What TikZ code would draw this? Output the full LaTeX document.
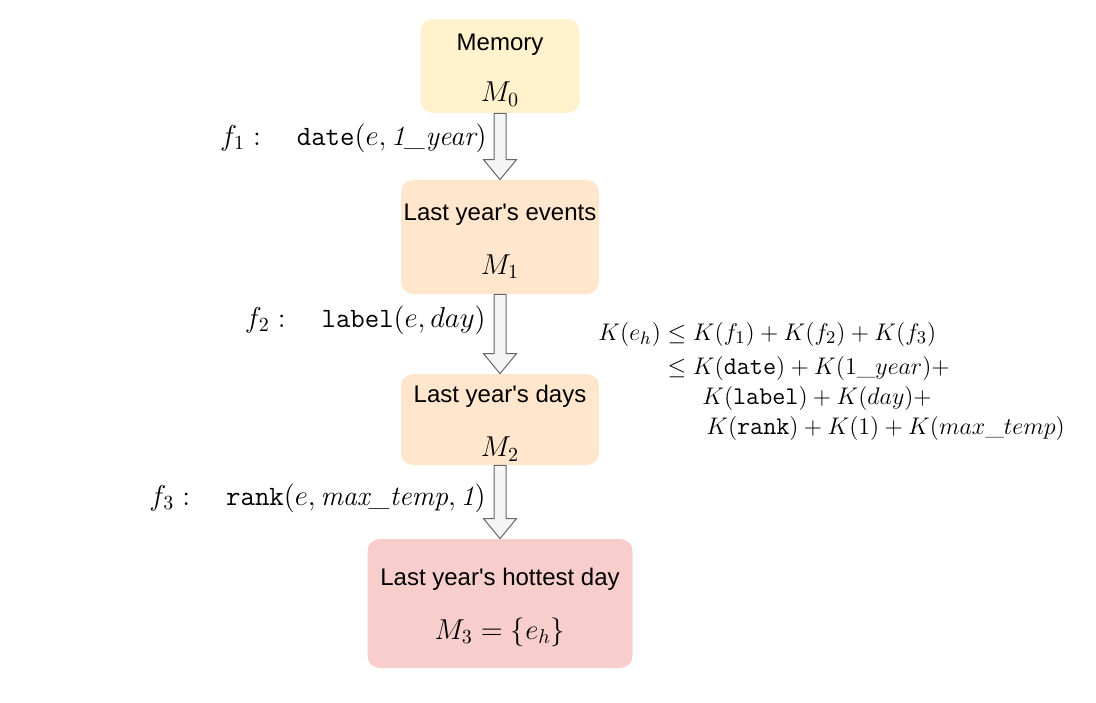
\documentclass[tikz,border=0pt]{standalone}
\usepackage{fontspec}
\usepackage{amsmath}
\usepackage{tikz}
\usepackage{xcolor}
\usetikzlibrary{calc}
\newfontfamily\boxfont{Liberation Sans}
\definecolor{memyellow}{HTML}{FFF2CC}
\definecolor{memorange}{HTML}{FFE6CC}
\definecolor{memred}{HTML}{F8CECC}
\definecolor{arrowfill}{HTML}{F5F5F5}
\definecolor{arrowdraw}{HTML}{666666}

%% block arrow from the bottom of one box to the top of the next
\newcommand\flowarrow[2]{%
  \draw[flowarr] let \p1=(#1.south), \p2=(#2.north) in
    (\x1-3pt,\y1) -- (\x1+3pt,\y1) -- (\x1+3pt,\y2+10pt) -- (\x1+8.25pt,\y2+10pt)
    -- (\x1,\y2) -- (\x1-8.25pt,\y2+10pt) -- (\x1-3pt,\y2+10pt) -- cycle;}
%% extra room above the first line of a box
\newcommand\boxtop{\rule{0pt}{12.6pt}}
\newcommand\boxmath[1]{{\fontsize{14.4}{27}\selectfont$#1$}}

\begin{document}
\begin{tikzpicture}[
  x=0.5pt, y=-0.5pt,
  membox/.style={rectangle, rounded corners=6pt, draw=none, align=center,
    inner sep=0pt, font=\boxfont\fontsize{12}{27}\selectfont},
  flowarr/.style={fill=arrowfill, draw=arrowdraw, line width=0.5pt, line join=miter},
  steplabel/.style={anchor=east, inner sep=0pt, font=\fontsize{14}{17}\selectfont}
]
\useasboundingbox (0,0) rectangle (1096,702);

%% Memory boxes
\node[membox, fill=memyellow, minimum width=79.5pt, minimum height=47pt]
  (mem0) at (500,66) {\boxtop Memory\\[-1.5pt]\boxmath{M_0}};

\node[membox, fill=memorange, minimum width=99pt, minimum height=57pt]
  (mem1) at (500,237) {\boxtop Last year's events\\\boxmath{M_1}};

\node[membox, fill=memorange, minimum width=99pt, minimum height=45.5pt]
  (mem2) at (500,419.5) {\boxtop Last year's days\\\boxmath{M_2}};

\node[membox, fill=memred, minimum width=132.5pt, minimum height=64.5pt]
  (mem3) at (500,603.5) {\boxtop Last year's hottest day\\\boxmath{M_3=\{e_h\}}};

%% Arrows between memories
\flowarrow{mem0}{mem1}
\flowarrow{mem1}{mem2}
\flowarrow{mem2}{mem3}

%% Operations
\node[steplabel] (op1) at (487,138)
  {$f_1:\quad\texttt{date}(e,\textit{1\_year})$};
\node[steplabel] (op2) at (486,320)
  {$f_2:\quad\texttt{label}(e,day)$};
\node[steplabel] (op3) at (486,498)
  {$f_3:\quad\texttt{rank}(e,\textit{max\_temp},\textit{1})$};

%% Complexity bound
\node[anchor=west, inner sep=0pt, font=\fontsize{12.7}{15.3}\selectfont] (bound) at (598,381)
  {$\begin{aligned}
    K(e_h) &\le K(f_1)+K(f_2)+K(f_3)\\[-1pt]
    &\le K(\texttt{date})+K(1\_year)+\\[-3.5pt]
    &\hphantom{\le{}}\hspace{8pt}K(\texttt{label})+K(day)+\\[-3.5pt]
    &\hphantom{\le{}}\hspace{10pt}K(\texttt{rank})+K(1)+K(max\_temp)
  \end{aligned}$};

\end{tikzpicture}
\end{document}
